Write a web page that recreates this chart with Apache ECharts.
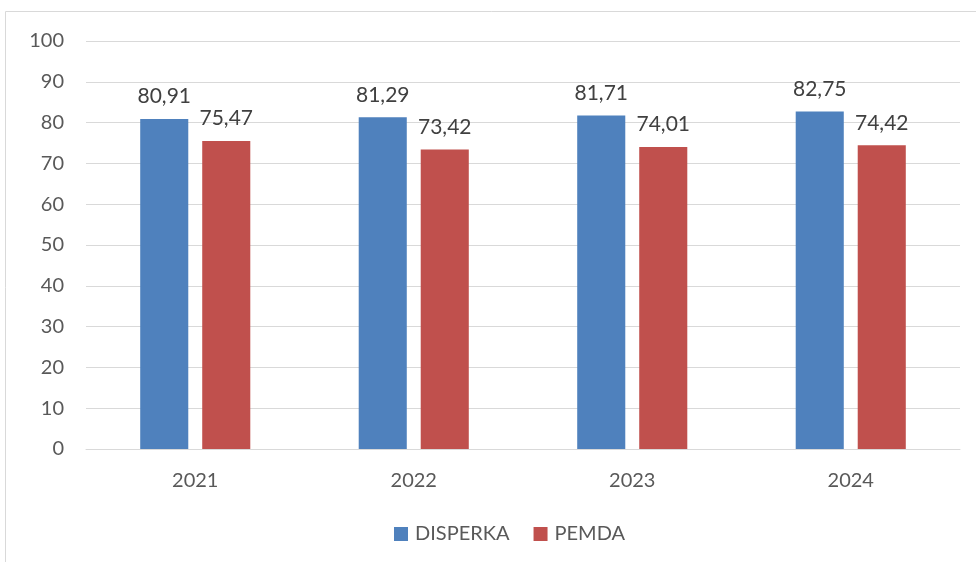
<!DOCTYPE html>
<html><head><meta charset="utf-8">
<script src="https://cdn.jsdelivr.net/npm/echarts@6/dist/echarts.min.js"></script>
<style>html,body{margin:0;padding:0;background:#fff}#c{width:976px;height:562px}</style>
</head><body><div id="c"></div>
<script>
const categories = ['2021','2022','2023','2024'];
const disperka = [80.91, 81.29, 81.71, 82.75];
const pemda = [75.47, 73.42, 74.01, 74.42];
const yTicks = [0,10,20,30,40,50,60,70,80,90,100];

const FONT = 'Lato, "Open Sans", sans-serif';
const fmt = p => p.value.toFixed(2).replace('.', ',');
const chart = echarts.init(document.getElementById('c'));
chart.setOption({
  animation: false,
  textStyle: { fontFamily: FONT },
  graphic: [{ type: 'rect', shape: { x: 5.5, y: 11.5, width: 1000, height: 600 }, style: { fill: 'none', stroke: '#d9d9d9', lineWidth: 1 } }],
  grid: { left: 86, right: 16, top: 41, bottom: 113, containLabel: false },
  legend: {
    bottom: 13, left: 389, itemWidth: 14, itemHeight: 14, itemGap: 24, icon: 'rect',
    textStyle: { fontSize: 20, color: '#595959', fontFamily: FONT, padding: [0, 0, 0, 2] }
  },
  xAxis: {
    type: 'category', data: categories,
    axisLine: { lineStyle: { color: '#d9d9d9' } }, axisTick: { show: false },
    axisLabel: { fontSize: 20, color: '#595959', margin: 22, fontFamily: FONT }
  },
  yAxis: {
    type: 'value', min: yTicks[0], max: yTicks[yTicks.length-1], interval: 10,
    axisLine: { show: false }, axisTick: { show: false },
    splitLine: { lineStyle: { color: '#d9d9d9', width: 1.2 } },
    axisLabel: { fontSize: 20, color: '#595959', margin: 22, fontFamily: FONT }
  },
  series: [
    { name: 'DISPERKA', type: 'bar', data: disperka, barWidth: '22%', barGap: '29%',
      itemStyle: { color: '#4f81bd' },
      label: { show: true, position: 'top', distance: 12, fontSize: 21, color: '#404040', formatter: fmt, fontFamily: FONT } },
    { name: 'PEMDA', type: 'bar', data: pemda, barWidth: '22%',
      itemStyle: { color: '#c0504d' },
      label: { show: true, position: 'top', distance: 12, fontSize: 21, color: '#404040', formatter: fmt, fontFamily: FONT } }
  ]
});
</script></body></html>
